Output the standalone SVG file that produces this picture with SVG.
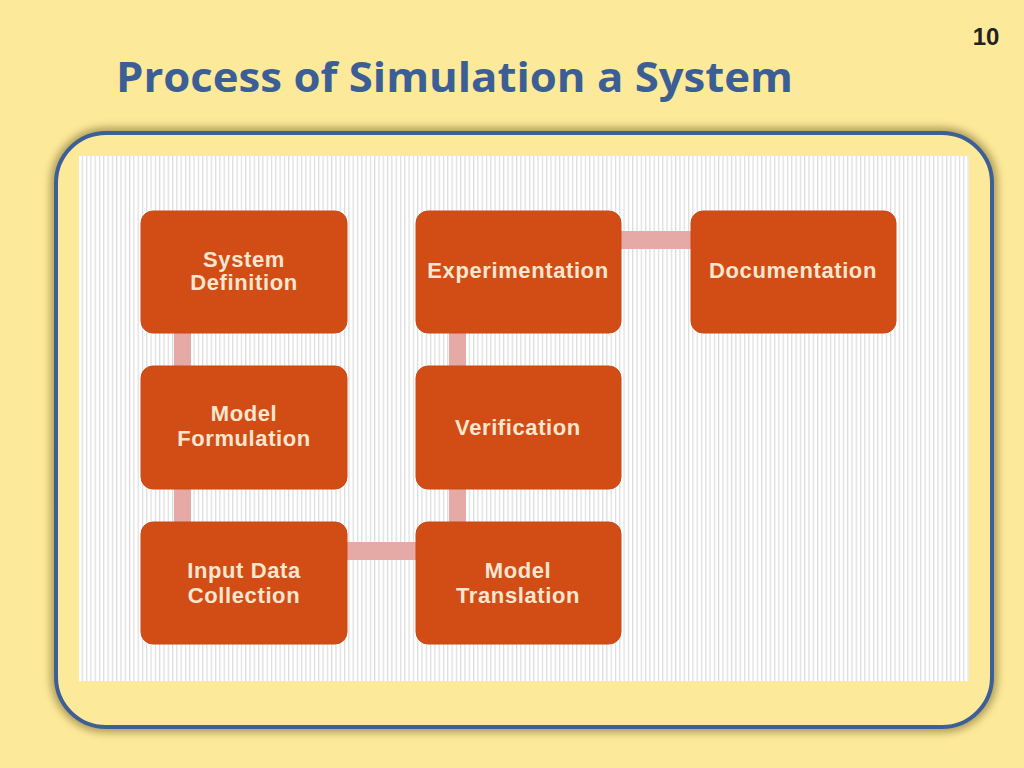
<svg xmlns="http://www.w3.org/2000/svg" width="1024" height="768" viewBox="0 0 1024 768">
<defs>
<pattern id="st" width="4.3" height="10" patternUnits="userSpaceOnUse"><rect width="4.3" height="10" fill="#ffffff"/><rect x="0" width="1.2" height="10" fill="#dcdcdc"/></pattern>
<filter id="sh" x="-5%" y="-5%" width="110%" height="110%"><feGaussianBlur stdDeviation="4"/></filter>
</defs>
<style>
.n{fill:#d24d16;stroke:#c94a17;stroke-width:1}
.t{font-family:"Liberation Sans",Arial,sans-serif;font-weight:bold;font-size:22px;letter-spacing:0.6px;fill:#fbe6cf;text-anchor:middle}
.c{fill:#e6aaa6}
</style>
<rect width="1024" height="768" fill="#fde99a"/>
<text x="986" y="45" font-family="Liberation Sans,Arial,sans-serif" font-weight="bold" font-size="24" fill="#222" text-anchor="middle">10</text>
<text x="116" y="92" font-family="Open Sans,Liberation Sans,sans-serif" font-weight="bold" font-size="42" fill="#3b5f95" textLength="677" lengthAdjust="spacingAndGlyphs">Process of Simulation a System</text>
<rect x="56" y="133" width="936" height="594" rx="50" fill="none" stroke="#6b5a20" stroke-width="10" opacity="0.6" filter="url(#sh)"/>
<rect x="56" y="133" width="936" height="594" rx="50" fill="#fde99a" stroke="#3d5f97" stroke-width="4"/>
<rect x="79" y="156" width="890" height="525" fill="url(#st)"/>
<g id="connectors">
<rect class="c" x="174" y="333" width="17" height="33"/>
<rect class="c" x="174" y="489" width="17" height="33"/>
<rect class="c" x="347" y="542" width="69" height="18"/>
<rect class="c" x="449" y="489" width="17" height="33"/>
<rect class="c" x="449" y="333" width="17" height="33"/>
<rect class="c" x="621" y="231" width="70" height="18"/>
</g>
<g id="n1"><rect class="n" x="141" y="211" width="206" height="122" rx="12"/><text class="t" x="244" y="267">System</text><text class="t" x="244" y="290">Definition</text></g>
<g id="n2"><rect class="n" x="141" y="366" width="206" height="123" rx="12"/><text class="t" x="244" y="421">Model</text><text class="t" x="244" y="446">Formulation</text></g>
<g id="n3"><rect class="n" x="141" y="522" width="206" height="122" rx="12"/><text class="t" x="244" y="578">Input Data</text><text class="t" x="244" y="603">Collection</text></g>
<g id="n4"><rect class="n" x="416" y="522" width="205" height="122" rx="12"/><text class="t" x="518" y="578">Model</text><text class="t" x="518" y="603">Translation</text></g>
<g id="n5"><rect class="n" x="416" y="366" width="205" height="123" rx="12"/><text class="t" x="518" y="435">Verification</text></g>
<g id="n6"><rect class="n" x="416" y="211" width="205" height="122" rx="12"/><text class="t" x="518" y="278">Experimentation</text></g>
<g id="n7"><rect class="n" x="691" y="211" width="205" height="122" rx="12"/><text class="t" x="793" y="278">Documentation</text></g>
</svg>
